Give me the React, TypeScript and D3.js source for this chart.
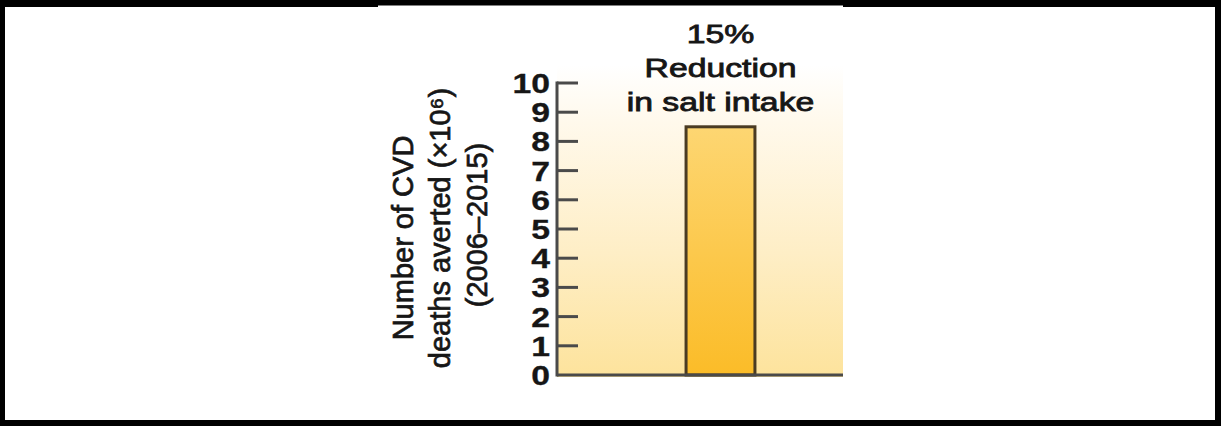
import React from 'react';
import * as d3 from 'd3';

const categories = ['15% Reduction in salt intake'];
const values = [8.5];
const yTicks = [0, 1, 2, 3, 4, 5, 6, 7, 8, 9, 10];
const titleLines = ['15%', 'Reduction', 'in salt intake'];
const yTitleLines = ['Number of CVD', 'deaths averted (×10⁶)', '(2006–2015)'];

const W = 1221;
const H = 426;
const plot = { left: 557, right: 843, top: 83, bottom: 375 };
const FONT = '"Liberation Sans", Arial, sans-serif';
const AXIS = '#4a4a4a';
const INK = '#161616';

const App: React.FC = () => {
  const y = d3.scaleLinear().domain([0, 10]).range([plot.bottom, plot.top]);
  // band runs past the cropped right edge, as in the original figure
  const x = d3.scaleBand().domain(categories).range([plot.left, 884]).padding(0.652);

  const bx = x(categories[0]) ?? 0;
  const bw = x.bandwidth();
  const cx = bx + bw / 2;
  const titleY = [238, 228, 225];

  return (
    <svg width={W} height={H} style={{ position: 'absolute', left: 0, top: 0, background: '#fff' }}>
      <defs>
        <linearGradient id="bg" x1="0" y1="0" x2="0" y2="1">
          <stop offset="0" stopColor="#ffffff" />
          <stop offset="0.18" stopColor="#fff9ec" />
          <stop offset="0.6" stopColor="#feeec6" />
          <stop offset="1" stopColor="#fde39c" />
        </linearGradient>
        <linearGradient id="bar" x1="0" y1="0" x2="0" y2="1">
          <stop offset="0" stopColor="#fdd672" />
          <stop offset="1" stopColor="#fbbc28" />
        </linearGradient>
      </defs>

      {/* shaded plot area */}
      <rect x={plot.left} y={65} width={plot.right - plot.left} height={plot.bottom - 65 + 2} fill="url(#bg)" />

      {/* bar */}
      {values.map((v, i) => (
        <rect
          key={categories[i]}
          x={bx}
          y={y(v)}
          width={bw}
          height={y(0) - y(v)}
          fill="url(#bar)"
          stroke="#4a3b22"
          strokeWidth={3}
        />
      ))}

      {/* axes */}
      <line x1={plot.left} x2={plot.left} y1={y(10) - 1.5} y2={y(0) + 1.5} stroke={AXIS} strokeWidth={3} />
      <line x1={plot.left} x2={plot.right} y1={y(0)} y2={y(0)} stroke={AXIS} strokeWidth={3} />
      {yTicks.map((t) => (
        <g key={t}>
          {t > 0 && <line x1={plot.left} x2={plot.left + 21} y1={y(t)} y2={y(t)} stroke={AXIS} strokeWidth={3} />}
          <text
            transform={`translate(550,${y(t) + 10}) scale(1.25,1)`}
            textAnchor="end"
            fontFamily={FONT}
            fontWeight="bold"
            fontSize={27}
            fill={INK}
            stroke={INK}
            strokeWidth={0.3}
          >
            {t}
          </text>
        </g>
      ))}

      {/* bar label */}
      {titleLines.map((s, i) => (
        <text
          key={s}
          transform={`translate(${cx},${43 + i * 34}) scale(1.35,1)`}
          textAnchor="middle"
          fontFamily={FONT}
          fontSize={25}
          fill={INK}
          stroke={INK}
          strokeWidth={0.8}
        >
          {s}
        </text>
      ))}

      {/* y axis title */}
      {yTitleLines.map((s, i) => (
        <text
          key={s}
          transform={`translate(${413 + i * 37},${titleY[i]}) rotate(-90)`}
          textAnchor="middle"
          fontFamily={FONT}
          fontSize={29}
          fill={INK}
          stroke={INK}
          strokeWidth={0.7}
        >
          {s}
        </text>
      ))}

      {/* frame */}
      <rect x={0} y={0} width={W} height={7} fill="#000" />
      <rect x={378} y={5.5} width={465} height={1.5} fill="#fff" />
      <rect x={0} y={0} width={5} height={H} fill="#000" />
      <rect x={W - 6} y={0} width={6} height={H} fill="#000" />
      <rect x={0} y={H - 6} width={W} height={6} fill="#000" />
    </svg>
  );
};

export default App;
